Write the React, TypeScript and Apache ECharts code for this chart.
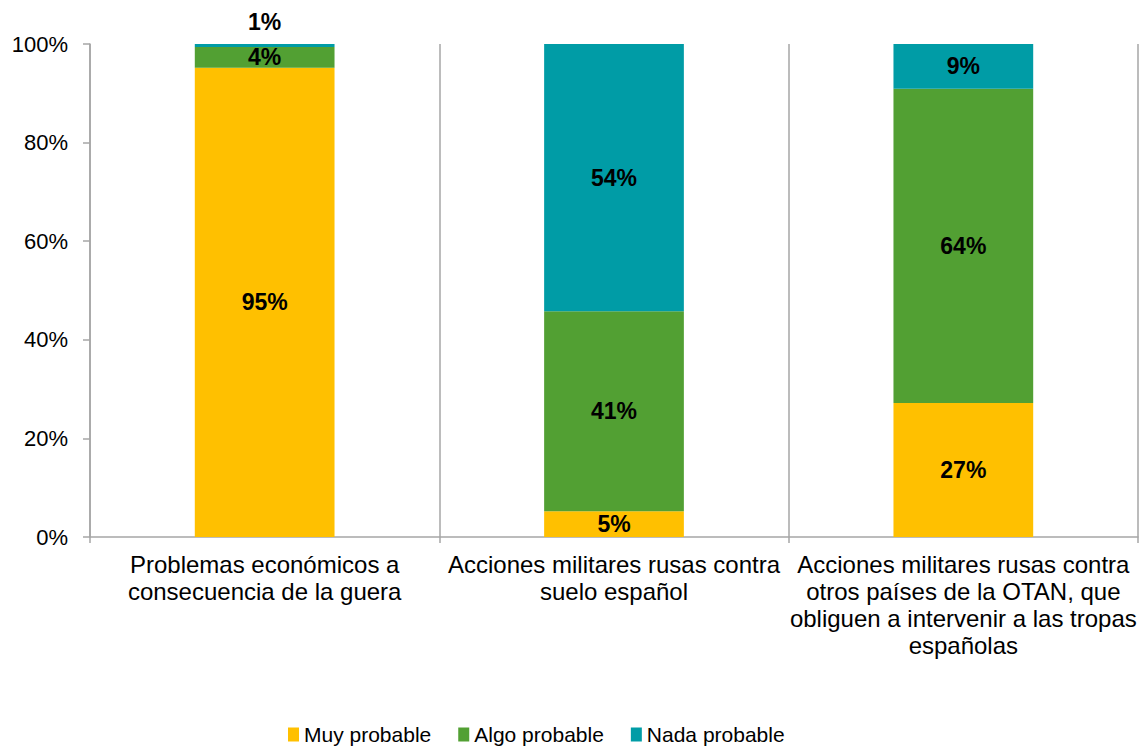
import React, { useEffect, useRef } from "react";
import * as echarts from "echarts";

const categories = [
  "Problemas económicos a\nconsecuencia de la guera",
  "Acciones militares rusas contra\nsuelo español",
  "Acciones militares rusas contra\notros países de la OTAN, que\nobliguen a intervenir a las tropas\nespañolas",
];
const muyProbable = [95.2, 5.2, 27.2];
const algoProbable = [4.2, 40.6, 63.7];
const nadaProbable = [0.6, 54.2, 9.1];
const seriesNames = ["Muy probable", "Algo probable", "Nada probable"];
const colors = ["#FFC000", "#52A033", "#009CA6"];

const FONT = "'Liberation Sans', Arial, Helvetica, sans-serif";

export default function App() {
  const ref = useRef<HTMLDivElement>(null);
  useEffect(() => {
    if (!ref.current) return;
    const chart = echarts.init(ref.current, undefined, { renderer: "svg" });
    const fmt = (p: any) => Math.round(p.value) + "%";
    const labelStyle = {
      show: true,
      position: "inside",
      formatter: fmt,
      fontFamily: FONT,
      fontSize: 23,
      fontWeight: "bold",
      color: "#000",
    };
    const mk = (name: string, data: number[], color: string, special?: boolean) => ({
      name,
      type: "bar",
      stack: "total",
      barWidth: "40%",
      itemStyle: { color },
      label: labelStyle,
      data: data.map((v, i) =>
        special && i === 0
          ? { value: v, label: { position: "top", distance: 11 } }
          : v
      ),
    });
    chart.setOption({
      animation: false,
      textStyle: { fontFamily: FONT },
      grid: { left: 90, right: 5, top: 44, bottom: 212, containLabel: false },
      legend: {
        left: 283,
        top: 719,
        itemWidth: 11,
        itemHeight: 14,
        itemGap: 27,
        icon: "rect",
        textStyle: { fontFamily: FONT, fontSize: 21, color: "#000" },
        data: seriesNames,
      },
      xAxis: {
        type: "category",
        data: categories,
        axisLine: { lineStyle: { color: "#A6A6A6", width: 1.5 } },
        axisTick: { show: true, length: 6, lineStyle: { color: "#A6A6A6", width: 1.5 } },
        splitLine: { show: true, interval: 0, lineStyle: { color: "#A6A6A6", width: 1.5 } },
        axisLabel: {
          interval: 0,
          margin: 14,
          fontFamily: FONT,
          fontSize: 24,
          lineHeight: 27,
          color: "#000",
          align: "center",
        },
      },
      yAxis: {
        type: "value",
        min: 0,
        max: 100,
        interval: 20,
        axisLine: { show: true, lineStyle: { color: "#A6A6A6", width: 1.5 } },
        axisTick: { show: true, length: 7, lineStyle: { color: "#A6A6A6", width: 1.5 } },
        splitLine: { show: false },
        axisLabel: {
          margin: 22,
          fontFamily: FONT,
          fontSize: 22,
          color: "#000",
          formatter: (v: number) => v + "%",
        },
      },
      series: [
        mk(seriesNames[0], muyProbable, colors[0]),
        mk(seriesNames[1], algoProbable, colors[1]),
        mk(seriesNames[2], nadaProbable, colors[2], true),
      ],
    });
    return () => chart.dispose();
  }, []);
  return (
    <div
      ref={ref}
      style={{ position: "fixed", left: 0, top: 0, width: 1143, height: 749, background: "#fff" }}
    />
  );
}
